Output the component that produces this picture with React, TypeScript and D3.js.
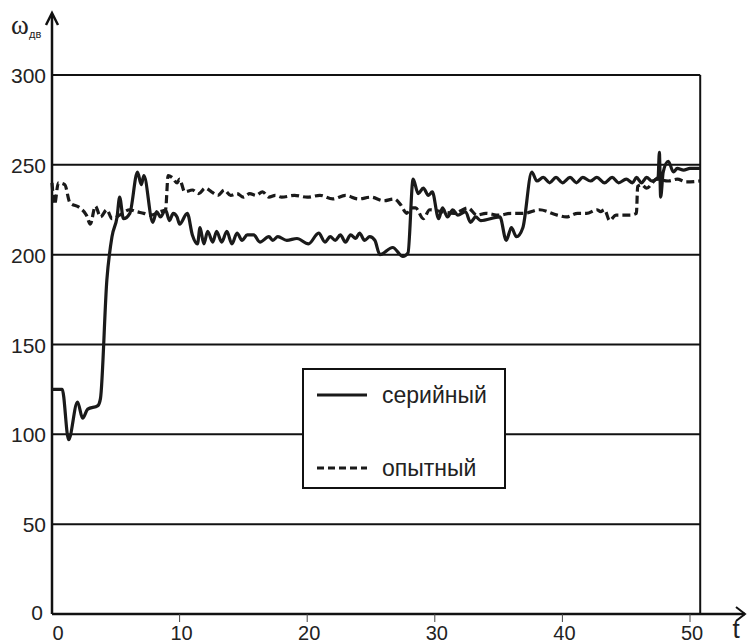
import { useEffect, useRef } from "react";
import * as d3 from "d3";

// [t, ω] points
const serialData: [number, number][] = [
  [0, 125], [0.8, 125], [1.3, 97], [2.0, 118], [2.4, 109], [2.8, 114], [3.6, 116], [3.8, 120],
  [4.3, 186], [4.7, 210], [5.1, 221], [5.3, 232], [5.6, 220], [6.1, 223], [6.7, 246], [7.0, 239],
  [7.2, 244], [7.9, 218], [8.2, 224], [8.5, 221], [8.9, 225], [9.2, 219], [9.5, 223], [9.8, 221],
  [10.0, 217], [10.6, 223], [11.0, 211], [11.4, 206], [11.6, 215], [11.9, 206], [12.2, 213],
  [12.6, 207], [12.9, 213], [13.3, 207], [13.7, 213], [14.1, 206], [14.5, 212], [14.9, 208],
  [15.3, 211], [15.8, 211], [16.3, 207], [17.0, 210], [17.3, 208], [17.7, 210], [18.4, 208],
  [19.2, 209], [20.1, 206], [20.9, 212], [21.4, 207], [21.8, 210], [22.2, 208], [22.6, 211],
  [23.0, 207], [23.4, 211], [23.8, 209], [24.1, 212], [24.5, 208], [24.9, 210], [25.3, 208],
  [25.7, 200], [26.7, 204], [27.5, 199], [27.9, 201], [28.3, 242], [28.7, 234], [29.1, 237],
  [29.5, 233], [29.8, 235], [30.3, 220], [30.6, 226], [31.0, 221], [31.4, 225], [31.8, 222],
  [32.4, 224], [32.8, 218], [33.2, 221], [33.6, 219], [35.1, 221], [35.6, 208], [36.0, 215],
  [36.4, 210], [36.9, 215], [37.6, 246], [38.0, 241], [38.5, 243], [39.0, 240], [39.5, 243],
  [40.0, 240], [40.6, 243], [41.1, 240], [41.6, 243], [42.2, 241], [42.7, 243], [43.3, 240],
  [43.9, 243], [44.4, 240], [45.0, 242], [45.5, 240], [45.8, 243], [46.2, 240], [46.6, 243],
  [47.0, 241], [47.5, 243], [47.6, 257], [47.7, 232], [47.9, 246], [48.3, 252], [48.7, 246],
  [49.0, 248], [49.5, 247], [50.0, 248], [50.8, 248],
];

const experimentalData: [number, number][] = [
  [0, 240], [0.2, 228], [0.5, 240], [1.0, 239], [1.4, 229], [2.2, 226], [2.7, 222], [3.0, 217],
  [3.4, 227], [3.8, 221], [4.3, 225], [4.7, 220], [5.3, 222], [6.1, 225], [6.6, 224], [7.2, 223],
  [7.7, 222], [8.5, 224], [8.9, 225], [9.1, 244], [9.4, 243], [9.8, 240], [10.0, 242],
  [10.4, 235], [11, 236], [11.5, 234], [12, 237], [12.5, 235], [13, 233], [13.5, 236], [14, 233],
  [14.5, 234], [15, 232], [15.5, 234], [16, 233], [16.5, 235], [17, 232], [17.5, 233], [18, 232],
  [19, 233], [20, 232], [21, 233], [22, 231], [23, 233], [24, 231], [25, 232], [26, 230],
  [26.8, 231], [27.3, 228], [27.8, 223], [28.1, 226], [28.5, 226], [29.1, 220], [29.6, 225],
  [30.5, 224], [31.5, 223], [32.6, 226], [33.3, 222], [34, 223], [35, 222], [36, 223], [37, 223],
  [38.2, 225], [39.6, 222], [40.3, 221], [41.2, 223], [41.9, 223], [42.7, 225], [43.0, 224],
  [43.3, 225], [43.7, 219], [44.2, 222], [45.3, 222], [45.8, 223], [45.9, 238], [46.2, 239],
  [46.6, 237], [47.4, 242], [48.3, 241], [49, 242], [49.7, 240.5], [50.8, 241],
];

const xTicks = [0, 10, 20, 30, 40, 50];
const yTicks = [0, 50, 100, 150, 200, 250, 300];
const tEnd = 50.8;
const legendLabels = ["серийный", "опытный"];

export default function App() {
  const svgRef = useRef<SVGSVGElement>(null);

  useEffect(() => {
    const width = 747;
    const height = 644;
    const font = "'Liberation Sans', Arial, sans-serif";

    const svg = d3.select(svgRef.current).attr("width", width).attr("height", height);
    svg.selectAll("*").remove();

    const x = d3.scaleLinear().domain([0, 50]).range([52, 690]);
    const y = d3.scaleLinear().domain([0, 300]).range([614, 75]);

    // horizontal grid
    svg
      .selectAll(".grid")
      .data(yTicks.filter((d) => d > 0))
      .join("line")
      .attr("x1", x(0))
      .attr("x2", x(tEnd))
      .attr("y1", (d) => y(d))
      .attr("y2", (d) => y(d))
      .attr("stroke", "#111")
      .attr("stroke-width", 2);

    // right border
    svg
      .append("line")
      .attr("x1", x(tEnd))
      .attr("x2", x(tEnd))
      .attr("y1", y(300))
      .attr("y2", y(0))
      .attr("stroke", "#111")
      .attr("stroke-width", 2);

    // axes with arrows
    svg
      .append("line")
      .attr("x1", x(0))
      .attr("x2", x(0))
      .attr("y1", y(0))
      .attr("y2", 14)
      .attr("stroke", "#111")
      .attr("stroke-width", 2.5);
    svg
      .append("path")
      .attr("d", `M${x(0) - 6},25 L${x(0)},13 L${x(0) + 6},25`)
      .attr("fill", "none")
      .attr("stroke", "#111")
      .attr("stroke-width", 2.5);
    svg
      .append("line")
      .attr("x1", x(0))
      .attr("x2", 745)
      .attr("y1", y(0))
      .attr("y2", y(0))
      .attr("stroke", "#111")
      .attr("stroke-width", 2.5);
    svg
      .append("path")
      .attr("d", `M736,${y(0) - 7} L745,${y(0)} L736,${y(0) + 7}`)
      .attr("fill", "none")
      .attr("stroke", "#111")
      .attr("stroke-width", 2);

    // x ticks
    svg
      .selectAll(".xtick")
      .data(xTicks.filter((d) => d > 0))
      .join("line")
      .attr("x1", (d) => x(d))
      .attr("x2", (d) => x(d))
      .attr("y1", y(0))
      .attr("y2", y(0) + 8)
      .attr("stroke", "#444")
      .attr("stroke-width", 1);

    svg
      .selectAll(".xlab")
      .data(xTicks)
      .join("text")
      .attr("x", (d) => x(d) + (d === 0 ? 6 : 2))
      .attr("y", 640)
      .attr("text-anchor", "middle")
      .attr("font-family", font)
      .attr("font-size", 20)
      .attr("fill", "#222")
      .text((d) => d);

    svg
      .selectAll(".ylab")
      .data(yTicks)
      .join("text")
      .attr("x", (d) => (d === 0 ? 43 : 46))
      .attr("y", (d) => y(d) + (d === 0 ? 6 : 8))
      .attr("text-anchor", "end")
      .attr("font-family", font)
      .attr("font-size", 21)
      .attr("fill", "#222")
      .text((d) => d);

    // axis titles
    svg
      .append("text")
      .attr("x", 11)
      .attr("y", 34)
      .attr("font-family", "'Liberation Serif', 'Times New Roman', serif")
      .attr("font-size", 27)
      .attr("fill", "#222")
      .text("ω");
    svg
      .append("text")
      .attr("x", 29)
      .attr("y", 38)
      .attr("font-family", font)
      .attr("font-size", 11)
      .attr("fill", "#222")
      .text("дв");

    svg
      .append("text")
      .attr("x", 736)
      .attr("y", 638)
      .attr("text-anchor", "middle")
      .attr("font-family", font)
      .attr("font-size", 26)
      .attr("fill", "#222")
      .text("t");

    const line = d3
      .line<[number, number]>()
      .x((d) => x(d[0]))
      .y((d) => y(d[1]))
      .curve(d3.curveMonotoneX);

    svg
      .append("path")
      .attr("d", line(experimentalData))
      .attr("fill", "none")
      .attr("stroke", "#1a1a1a")
      .attr("stroke-width", 3.2)
      .attr("stroke-dasharray", "8,4");

    svg
      .append("path")
      .attr("d", line(serialData))
      .attr("fill", "none")
      .attr("stroke", "#1a1a1a")
      .attr("stroke-width", 3.2)
      .attr("stroke-linejoin", "round");

    // legend
    const lg = svg.append("g");
    lg.append("rect")
      .attr("x", 303)
      .attr("y", 369)
      .attr("width", 202)
      .attr("height", 119)
      .attr("fill", "#fff")
      .attr("stroke", "#111")
      .attr("stroke-width", 2);
    legendLabels.forEach((label, i) => {
      const ly = 395 + i * 73;
      lg.append("line")
        .attr("x1", 317)
        .attr("x2", 367)
        .attr("y1", ly)
        .attr("y2", ly)
        .attr("stroke", "#1a1a1a")
        .attr("stroke-width", 3.2)
        .attr("stroke-dasharray", i === 0 ? null : "7,4");
      lg.append("text")
        .attr("x", 382)
        .attr("y", ly + 8)
        .attr("font-family", font)
        .attr("font-size", 23)
        .attr("fill", "#222")
        .text(label);
    });
  }, []);

  return <svg ref={svgRef} style={{ position: "absolute", left: 0, top: 0 }}></svg>;
}
